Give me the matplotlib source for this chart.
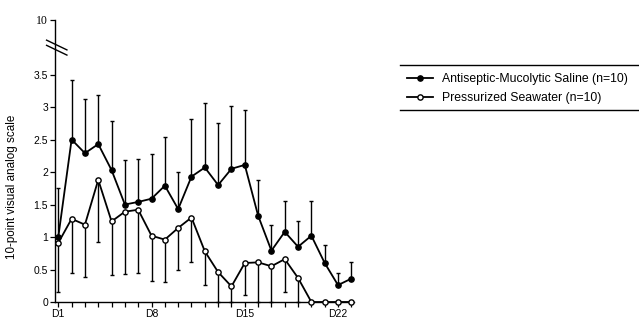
"""
Pain scores (10-point VAS) per day for two nasal irrigation groups
"""
import matplotlib.pyplot as plt
import numpy as np
from matplotlib.lines import Line2D

plt.rcParams["font.family"] = ["Liberation Sans", "DejaVu Sans"]

# Days D1..D23
days = np.arange(1, 24)
day_ticks = [1, 8, 15, 22]
day_labels = ["D1", "D8", "D15", "D22"]

# Antiseptic-Mucolytic Saline (filled markers), upper error bar tops
saline_mean = [1.0, 2.5, 2.29, 2.43, 2.03, 1.5, 1.54, 1.59, 1.79, 1.43, 1.93,
               2.07, 1.8, 2.05, 2.11, 1.33, 0.79, 1.08, 0.85, 1.02, 0.6, 0.26, 0.36]
saline_top = [1.76, 3.41, 3.12, 3.18, 2.79, 2.18, 2.2, 2.27, 2.54, 2.0, 2.82,
              3.06, 2.75, 3.01, 2.96, 1.88, 1.19, 1.56, 1.25, 1.55, 0.88, 0.45, 0.62]

# Pressurized Seawater (open markers), lower error bar bottoms
seawater_mean = [0.91, 1.28, 1.19, 1.88, 1.24, 1.39, 1.42, 1.02, 0.96, 1.14, 1.3,
                 0.78, 0.46, 0.24, 0.6, 0.61, 0.55, 0.66, 0.37, 0.0, 0.0, 0.0, 0.0]
seawater_bottom = [0.15, 0.45, 0.39, 0.93, 0.41, 0.43, 0.45, 0.33, 0.31, 0.49, 0.61,
                   0.26, 0.0, 0.0, 0.1, 0.0, 0.0, 0.16, 0.0, 0.0, 0.0, 0.0, 0.0]

y_ticks = [0, 0.5, 1, 1.5, 2, 2.5, 3, 3.5]
y_labels = ["0", "0.5", "1", "1.5", "2", "2.5", "3", "3.5"]
# the "10" tick sits above the axis break
top_pos = 4.34


def plot_vas():
    fig = plt.figure(figsize=(6.39, 3.21), dpi=100)
    ax = fig.add_axes([0.086, 0.0592, 0.468, 0.8785])

    saline_mean_a = np.array(saline_mean)
    seawater_mean_a = np.array(seawater_mean)
    up = np.array(saline_top) - saline_mean_a
    down = seawater_mean_a - np.array(seawater_bottom)

    ax.errorbar(days, saline_mean, yerr=[np.zeros_like(up), up], fmt="none",
                ecolor="black", elinewidth=1.0, capsize=1.5, capthick=1.0,
                clip_on=False)
    ax.errorbar(days, seawater_mean, yerr=[down, np.zeros_like(down)], fmt="none",
                ecolor="black", elinewidth=1.0, capsize=1.5, capthick=1.0,
                clip_on=False)
    ax.plot(days, saline_mean, color="black", linewidth=1.3, marker="o",
            markersize=3.8, markerfacecolor="black", clip_on=False, zorder=3,
            label="Antiseptic-Mucolytic Saline (n=10)")
    ax.plot(days, seawater_mean, color="black", linewidth=1.3, marker="o",
            markersize=3.8, markerfacecolor="white", clip_on=False, zorder=3,
            label="Pressurized Seawater (n=10)")

    ax.set_xlim(0.75, 23.2)
    ax.set_ylim(0, top_pos)

    # Spines
    ax.spines["top"].set_visible(False)
    ax.spines["right"].set_visible(False)
    ax.spines["left"].set_linewidth(1.0)
    ax.spines["bottom"].set_linewidth(1.0)

    ax.set_xticks(day_ticks)
    ax.set_xticklabels(day_labels, fontsize=7.5)
    ax.set_xticks(days, minor=True)
    ax.tick_params(axis="x", which="both", direction="out", length=3.5,
                   width=0.9, pad=1.5)
    ax.set_yticks(y_ticks + [top_pos])
    ax.set_yticklabels(y_labels + ["10"], fontsize=7.5)
    ax.get_yticklabels()[-1].set_family("Liberation Serif")
    ax.get_yticklabels()[-1].set_fontsize(8.5)
    ax.tick_params(axis="y", direction="out", length=3.5, width=0.9, pad=1.5)

    # Axis break marks
    ytr = ax.get_yaxis_transform()
    ax.plot([-0.028, 0.040], [4.03, 3.88], color="black", lw=1.0,
            transform=ytr, clip_on=False)
    ax.plot([-0.028, 0.040], [3.95, 3.80], color="black", lw=1.0,
            transform=ytr, clip_on=False)

    ax.set_ylabel("10-point visual analog scale", fontsize=8.4)
    ax.yaxis.set_label_coords(-0.125, 0.41)

    # Legend: only top and bottom rules are visible in the original
    fig.legend(loc="center left", bbox_to_anchor=(0.637, 0.724),
               fontsize=8.8, frameon=False, handlelength=2.1,
               handletextpad=0.8, borderpad=0.0, borderaxespad=0.0,
               labelspacing=0.55)
    for yy in (0.797, 0.656):
        fig.add_artist(Line2D([0.626, 1.0], [yy, yy], color="black", lw=1.0,
                              transform=fig.transFigure))

    plt.savefig("out.png", dpi=100)
    plt.close()


if __name__ == "__main__":
    plot_vas()
